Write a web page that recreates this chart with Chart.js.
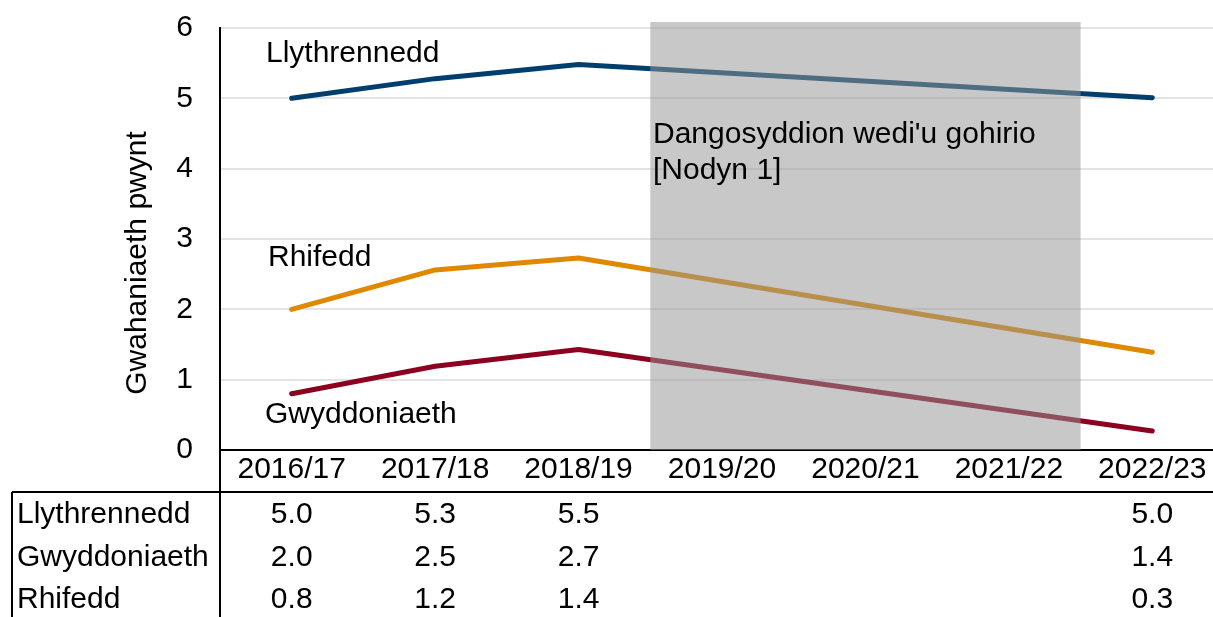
<!DOCTYPE html>
<html>
<head>
<meta charset="utf-8">
<script src="https://cdn.jsdelivr.net/npm/chart.js@4.4.0/dist/chart.umd.min.js"></script>
<style>
  body { margin: 0; background: #fff; overflow: hidden; }
  #wrap { width: 1230px; height: 617px; }
</style>
</head>
<body>
<div id="wrap"><canvas id="gapChart" width="1230" height="617"></canvas></div>
<script>
const years = ['2016/17', '2017/18', '2018/19', '2019/20', '2020/21', '2021/22', '2022/23'];
const yTicks = [0, 1, 2, 3, 4, 5, 6];

// lines (no data for the postponed years)
const llythrennedd = [5.0, 5.28, 5.48, null, null, null, 5.01];
const rhifedd = [2.0, 2.56, 2.73, null, null, null, 1.39];
const gwyddoniaeth = [0.8, 1.19, 1.43, null, null, null, 0.27];

// data table under the chart, as printed
const tableRows = ['Llythrennedd', 'Gwyddoniaeth', 'Rhifedd'];
const tableLlythrennedd = ['5.0', '5.3', '5.5', '', '', '', '5.0'];
const tableGwyddoniaeth = ['2.0', '2.5', '2.7', '', '', '', '1.4'];
const tableRhifedd = ['0.8', '1.2', '1.4', '', '', '', '0.3'];

const FONT = '"Liberation Sans", Arial, sans-serif';

const overlay = {
    id: 'overlay',
    afterDatasetsDraw(chart) {
        const ctx = chart.ctx;
        const x = chart.scales.x;
        // shaded "postponed" band between 2018/19 and 2022/23
        const left = x.getPixelForValue(2.5);
        const right = x.getPixelForValue(5.5);
        ctx.save();
        ctx.fillStyle = 'rgba(150,150,150,0.52)';
        ctx.fillRect(left, chart.chartArea.top - 6, right - left, chart.chartArea.bottom - chart.chartArea.top + 6);
        ctx.restore();
    },
    afterDraw(chart) {
        const ctx = chart.ctx;
        const x = chart.scales.x;
        const area = chart.chartArea;
        ctx.save();
        ctx.fillStyle = '#000';
        ctx.font = '30px ' + FONT;
        ctx.textBaseline = 'alphabetic';
        ctx.textAlign = 'left';

        ctx.fillText('Llythrennedd', 266, 62);
        ctx.fillText('Rhifedd', 268, 266);
        ctx.fillText('Gwyddoniaeth', 265, 423);
        ctx.fillText("Dangosyddion wedi'u gohirio", 653, 143);
        ctx.fillText('[Nodyn 1]', 653, 179);

        // axis title
        ctx.save();
        ctx.translate(146, 263);
        ctx.rotate(-Math.PI / 2);
        ctx.textAlign = 'center';
        ctx.fillText('Gwahaniaeth pwynt', 0, 0);
        ctx.restore();

        // table lines
        ctx.strokeStyle = '#000';
        ctx.lineWidth = 2;
        ctx.beginPath();
        ctx.moveTo(12, 492);
        ctx.lineTo(1230, 492);
        ctx.moveTo(12, 492);
        ctx.lineTo(12, 617);
        ctx.moveTo(area.left, area.bottom);
        ctx.lineTo(area.left, 617);
        ctx.stroke();

        // table text
        const baselines = [523, 566, 608];
        const rows = [tableLlythrennedd, tableGwyddoniaeth, tableRhifedd];
        tableRows.forEach((name, r) => {
            ctx.textAlign = 'left';
            ctx.fillText(name, 17, baselines[r]);
            ctx.textAlign = 'center';
            rows[r].forEach((v, i) => {
                if (v) ctx.fillText(v, x.getPixelForValue(i), baselines[r]);
            });
        });
        ctx.restore();
    }
};

const lineSet = (label, data, color) => ({
    label: label,
    data: data,
    borderColor: color,
    backgroundColor: color,
    borderWidth: 5,
    pointRadius: 0,
    tension: 0,
    spanGaps: true,
    borderCapStyle: 'round',
    borderJoinStyle: 'round'
});

new Chart(document.getElementById('gapChart').getContext('2d'), {
    type: 'line',
    data: {
        labels: years,
        datasets: [
            lineSet('Llythrennedd', llythrennedd, '#003f6d'),
            lineSet('Rhifedd', rhifedd, '#e08800'),
            lineSet('Gwyddoniaeth', gwyddoniaeth, '#8c0020')
        ]
    },
    options: {
        responsive: false,
        animation: false,
        layout: { padding: { left: 0, top: 28, right: 6, bottom: 125 } },
        plugins: {
            legend: { display: false },
            tooltip: { enabled: false }
        },
        scales: {
            x: {
                offset: true,
                afterFit: s => { s.height = 42; s.paddingLeft = 0; s.paddingRight = 0; },
                grid: { display: false, drawTicks: false },
                border: { display: true, color: '#000', width: 2 },
                ticks: { color: '#000', font: { size: 30, family: FONT }, padding: 2, maxRotation: 0, autoSkip: false }
            },
            y: {
                min: 0,
                max: 6,
                afterFit: s => { s.width = 220; s.paddingTop = 0; s.paddingBottom = 0; },
                afterBuildTicks: s => { s.ticks = yTicks.map(v => ({ value: v })); },
                grid: {
                    drawTicks: false,
                    lineWidth: 2,
                    color: c => c.tick.value === 0 ? 'rgba(0,0,0,0)' : '#e3e3e3'
                },
                border: { display: true, color: '#000', width: 2 },
                ticks: { color: '#000', font: { size: 30, family: FONT }, padding: 27 }
            }
        }
    },
    plugins: [overlay]
});
</script>
</body>
</html>
